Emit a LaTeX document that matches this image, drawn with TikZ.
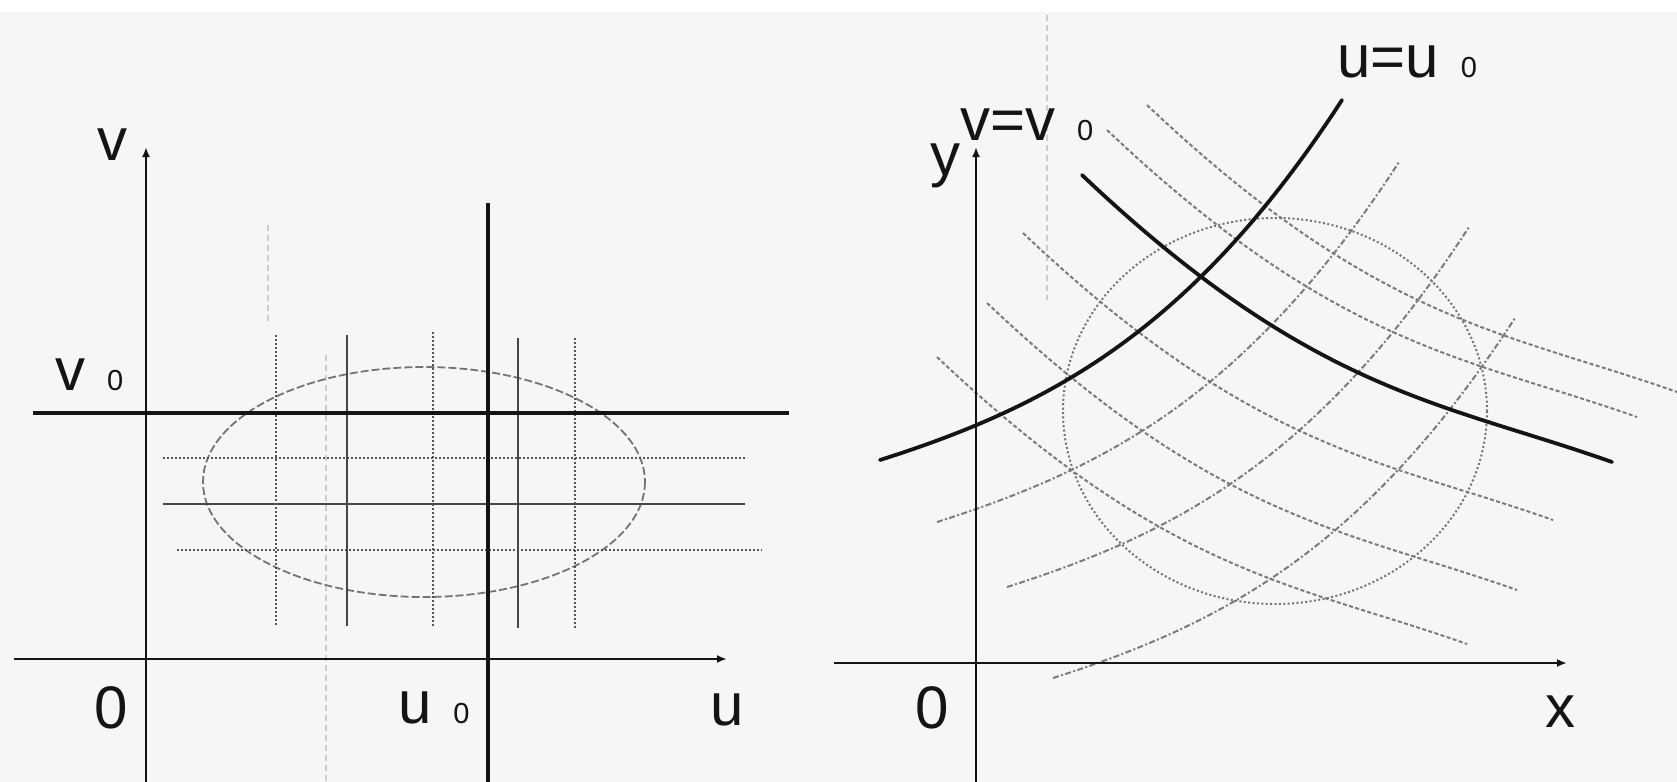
\documentclass[tikz,border=0pt]{standalone}
\usepackage{fontspec}
\setmainfont{Liberation Sans}
\usetikzlibrary{arrows.meta}
\definecolor{bg}{RGB}{245,246,246}
\definecolor{ink}{RGB}{20,20,20}
\definecolor{gridc}{RGB}{100,100,100}
\definecolor{faintc}{RGB}{205,205,205}
\newcommand{\subz}{\hspace{11pt}{\fontsize{14.5pt}{16pt}\selectfont 0}}
\newcommand{\ucurve}{(880,460) .. controls (1050,406) and (1192,331) .. (1342,100)}
\newcommand{\vcurve}{(1082,175) .. controls (1312,393) and (1442,402) .. (1612,462)}
\begin{document}
\begin{tikzpicture}[x=0.5pt,y=-0.5pt,
  lbl/.style={inner sep=0pt, outer sep=0pt, anchor=base west, font=\fontsize{30pt}{32pt}\selectfont, text=ink},
  axis/.style={ink, line width=1.4pt, -{Latex[length=5pt,width=4pt]}},
  thick line/.style={ink, line width=1.8pt},
  curve line/.style={ink, line width=1.9pt, line cap=round},
  gsolid/.style={gridc!70!black, line width=1pt},
  gdot/.style={gridc!85!black, line width=1.3pt, dash pattern=on 1.2pt off 0.8pt},
  ellL/.style={gridc!90, line width=0.9pt, dash pattern=on 4pt off 1.5pt},
  ellR/.style={gridc!90, line width=1pt, dash pattern=on 1pt off 1.2pt},
  ufam/.style={gridc!85, line width=1pt, dash pattern=on 3pt off 1.2pt on 1pt off 1.2pt},
  vfam/.style={gridc!85, line width=1pt, dash pattern=on 2pt off 1.2pt},
  faint/.style={faintc, line width=0.7pt, dash pattern=on 3pt off 2pt}]
\useasboundingbox (0,0) rectangle (1677,782);
\fill[bg] (0,0) rectangle (1677,782);
\fill[white] (0,0) rectangle (1677,12);

% ---------------- faint scan marks
\draw[faint] (326,355) -- (326,782);
\draw[faint] (268,225) -- (268,325);
\draw[faint] (1047,15) -- (1047,300);

% ---------------- left panel
\coordinate (vB) at (146,782); \coordinate (vT) at (146,147);
\coordinate (uL) at (14,659);  \coordinate (uR) at (727,659);
\coordinate (v0L) at (33,413); \coordinate (v0R) at (789,413);
\coordinate (u0T) at (488,203); \coordinate (u0B) at (488,782);

\draw[ellL] (424,482) ellipse [x radius=221, y radius=115];

\draw[gdot]   (163,458) -- (747,458);
\draw[gsolid] (163,504) -- (745,504);
\draw[gdot]   (177,550) -- (762,550);

\draw[gdot]   (276,335) -- (276,626);
\draw[gsolid] (347,335) -- (347,626);
\draw[gdot]   (433,332) -- (433,626);
\draw[gsolid] (518,338) -- (518,628);
\draw[gdot]   (575,338) -- (575,628);

\draw[thick line] (v0L) -- (v0R);
\draw[thick line] (u0T) -- (u0B);
\draw[axis] (vB) -- (vT);
\draw[axis] (uL) -- (uR);

\node[lbl] (lv)  at (97,160) {v};
\node[lbl] (lv0) at (55,390) {v\subz};
\node[lbl] (lO)  at (94,728) {0};
\node[lbl] (lu0) at (398,723) {u\subz};
\node[lbl] (lu)  at (710,725) {u};

% ---------------- right panel
\coordinate (yB) at (976,782); \coordinate (yT) at (976,147);
\coordinate (xL) at (834,663); \coordinate (xR) at (1567,663);

\draw[ellR] (1275,411) ellipse [x radius=212, y radius=193];

% u-family (rising): translates of u = u0
\draw[ufam, shift={(57,62)}]   \ucurve;
\draw[ufam, shift={(127,127)}] \ucurve;
\draw[ufam, shift={(173,218)}] \ucurve;

% v-family (falling): translates of v = v0
\draw[vfam, shift={(65,-70)}]   \vcurve;
\draw[vfam, shift={(25,-45)}]   \vcurve;
\draw[vfam, shift={(-59,58)}]   \vcurve;
\draw[vfam, shift={(-95,128)}]  \vcurve;
\draw[vfam, shift={(-145,182)}] \vcurve;

% solid curves
\draw[curve line] \ucurve;
\draw[curve line] \vcurve;

\draw[axis] (yB) -- (yT);
\draw[axis] (xL) -- (xR);

\node[lbl] (ry)  at (930,175) {y};
\node[lbl] (rv0) at (960,140) {v=v\subz};
\node[lbl] (ru0) at (1337,77) {u=u\subz};
\node[lbl] (rO)  at (915,728) {0};
\node[lbl] (rx)  at (1545,727) {x};
\end{tikzpicture}
\end{document}
